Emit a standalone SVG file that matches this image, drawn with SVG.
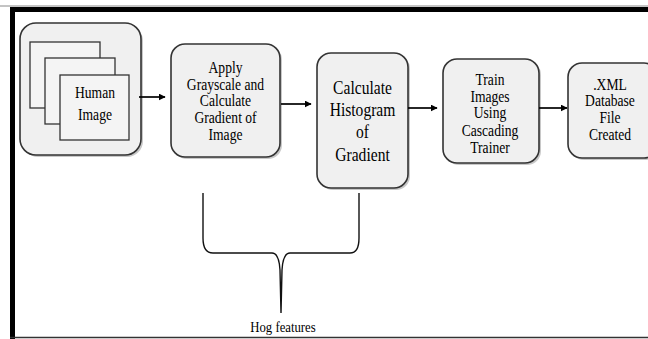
<svg xmlns="http://www.w3.org/2000/svg" width="648" height="339" viewBox="0 0 648 339">
<defs>
<marker id="ah" viewBox="0 0 10 10" refX="9" refY="5" markerWidth="7" markerHeight="7" markerUnits="userSpaceOnUse" orient="auto">
<path d="M0,0 L10,5 L0,10 z" fill="#000"/>
</marker>
<style>
.node{fill:#f0f0f0;stroke:#333;stroke-width:1.6}
.shadow{fill:#9a9a9a;opacity:0.55}
.sq{fill:#f4f4f4;stroke:#333;stroke-width:1.3}
text{font-family:"Liberation Serif","Times New Roman",serif;fill:#000;text-anchor:middle}
.t16{font-size:16px}
.t19{font-size:19px}
.conn{stroke:#000;stroke-width:1.7;fill:none}
.brace{stroke:#111;stroke-width:1.4;fill:none}
</style>
</defs>
<rect x="0" y="0" width="648" height="339" fill="#fff"/>
<g id="frame">
<line x1="0" y1="6" x2="648" y2="6" stroke="#888" stroke-width="1"/>
<rect x="10" y="7" width="638" height="5" fill="#000"/>
<rect x="10" y="7" width="5" height="332" fill="#000"/>
<line x1="10" y1="337.5" x2="648" y2="337.5" stroke="#333" stroke-width="1.5"/>
</g>
<g id="node-human-image">
<rect class="shadow" x="22" y="25" width="121" height="132" rx="16"/>
<rect class="node" x="20" y="23" width="121" height="132" rx="16"/>
<rect class="sq" x="30" y="42" width="70" height="66"/>
<rect class="sq" x="45" y="58" width="70" height="66"/>
<rect class="sq" x="60" y="75" width="69" height="65"/>
<text class="t16" transform="translate(95 98) scale(0.85 1)">Human</text>
<text class="t16" transform="translate(95 120) scale(0.85 1)">Image</text>
</g>
<g id="node-grayscale">
<rect class="shadow" x="173" y="46" width="109" height="113" rx="14"/>
<rect class="node" x="171" y="44" width="109" height="113" rx="14"/>
<text class="t16" transform="translate(225.5 73) scale(0.85 1)">Apply</text>
<text class="t16" transform="translate(225.5 90) scale(0.85 1)">Grayscale and</text>
<text class="t16" transform="translate(225.5 106) scale(0.85 1)">Calculate</text>
<text class="t16" transform="translate(225.5 123) scale(0.85 1)">Gradient of</text>
<text class="t16" transform="translate(225.5 140) scale(0.85 1)">Image</text>
</g>
<g id="node-histogram">
<rect class="shadow" x="319" y="55" width="91" height="135" rx="14"/>
<rect class="node" x="317" y="53" width="91" height="135" rx="14"/>
<text class="t19" transform="translate(362.5 94) scale(0.82 1)">Calculate</text>
<text class="t19" transform="translate(362.5 116) scale(0.82 1)">Histogram</text>
<text class="t19" transform="translate(362.5 138) scale(0.82 1)">of</text>
<text class="t19" transform="translate(362.5 161) scale(0.82 1)">Gradient</text>
</g>
<g id="node-train">
<rect class="shadow" x="445" y="61" width="96" height="104" rx="14"/>
<rect class="node" x="443" y="59" width="96" height="104" rx="14"/>
<text class="t16" transform="translate(490 85) scale(0.85 1)">Train</text>
<text class="t16" transform="translate(490 102) scale(0.85 1)">Images</text>
<text class="t16" transform="translate(490 118) scale(0.85 1)">Using</text>
<text class="t16" transform="translate(490 136) scale(0.85 1)">Cascading</text>
<text class="t16" transform="translate(490 153) scale(0.85 1)">Trainer</text>
</g>
<g id="node-xml">
<rect class="shadow" x="570" y="65" width="90" height="95" rx="14"/>
<rect class="node" x="568" y="63" width="90" height="95" rx="14"/>
<text class="t16" transform="translate(610 90) scale(0.85 1)">.XML</text>
<text class="t16" transform="translate(610 106) scale(0.85 1)">Database</text>
<text class="t16" transform="translate(610 123) scale(0.85 1)">File</text>
<text class="t16" transform="translate(610 140) scale(0.85 1)">Created</text>
</g>
<g id="connectors">
<line class="conn" x1="139" y1="97" x2="165" y2="97" marker-end="url(#ah)"/>
<line class="conn" x1="281" y1="104" x2="311" y2="104" marker-end="url(#ah)"/>
<line class="conn" x1="408" y1="108" x2="437" y2="108" marker-end="url(#ah)"/>
<line class="conn" x1="539" y1="108" x2="567" y2="108" marker-end="url(#ah)"/>
</g>
<g id="hog-brace">
<path class="brace" d="M203,193 L203,238 Q203,253 213,253 L272,253 Q279,253 280,270 L281,313 L282,270 Q283,253 290,253 L350,253 Q359,253 359,238 L359,193"/>
<text class="t16" transform="translate(283 332) scale(0.85 1)" style="font-size:15px">Hog features</text>
</g>
</svg>
